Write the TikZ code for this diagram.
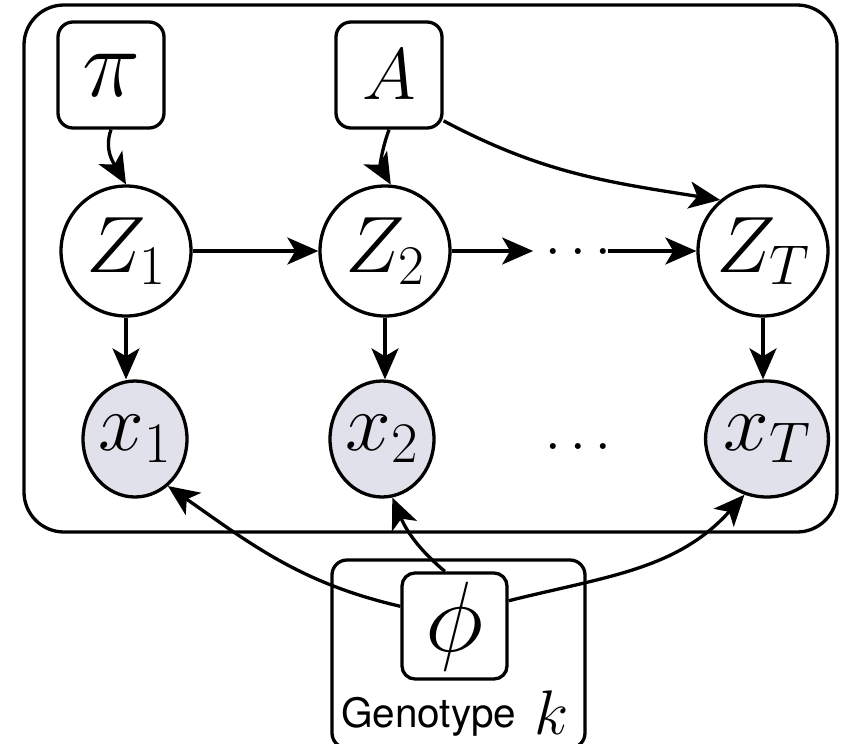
\RequirePackage{fix-cm}
\documentclass[tikz,border=0pt]{standalone}
\usepackage{fontspec}
\newfontfamily\geno{TeX Gyre Heros}
\usetikzlibrary{arrows.meta,shapes.geometric}
\definecolor{obsfill}{RGB}{224,225,234}
\tikzset{
  param/.style={draw, rounded corners=15pt, minimum width=106pt, minimum height=106pt, inner sep=0pt, line width=3.3pt},
  latent/.style={draw, circle, minimum size=130pt, inner sep=0pt, line width=3.3pt, font=\fontsize{80}{80}\selectfont},
  obs/.style={draw, ellipse, fill=obsfill, minimum width=104pt, minimum height=116pt, inner sep=0pt, line width=3.3pt, font=\fontsize{82}{82}\selectfont},
  arr/.style={-{Stealth[length=31pt,width=27pt,inset=8pt]}, line width=3.3pt},
  dotsnode/.style={inner sep=0pt, anchor=base, font=\fontsize{56}{56}\selectfont},
}
\begin{document}
\begin{tikzpicture}[x=1pt,y=-1pt]
\useasboundingbox (0,0) rectangle (846,744);
\clip (0,0) rectangle (846,744);
% outer plate
\draw[rounded corners=40pt, line width=3.3pt] (24,5) rectangle (837,532);
% genotype plate
\draw[rounded corners=15pt, line width=3.3pt] (332,560) rectangle (585,748);

\node[param, font=\fontsize{98}{98}\selectfont] (pi) at (111,75) {$\pi$};
\node[param, font=\fontsize{73}{73}\selectfont] (A) at (389,75) {$A$};

\node[latent] (Z1) at (126,251) {$Z_1$};
\node[latent] (Z2) at (385,251) {$Z_2$};
\node[latent] (ZT) at (763,251) {$Z_T$};
\node[dotsnode] (d1) at (578,265) {$\cdots$};

\node[obs] (x1) at (135,439) {$x_1$};
\node[obs] (x2) at (382,439) {$x_2$};
\node[obs] (xT) at (767,439) {$x_T$};
\node[dotsnode] (d2) at (578,460) {$\cdots$};

\node[param, minimum width=105pt, minimum height=106pt, rounded corners=13pt, font=\fontsize{100}{100}\selectfont] (phi) at (454.5,626) {$\phi$};
\node[inner sep=0pt, anchor=base west, font=\geno\fontsize{40.5}{40.5}\selectfont] (gt) at (341,727) {Genotype};
\node[inner sep=0pt, anchor=base west, font=\fontsize{63}{63}\selectfont] (k) at (534,734) {$k$};

% edges
\draw[arr] (pi.south) to[out=-110,in=120] (Z1.north);
\draw[arr] (A.south) to[out=-110,in=120] (Z2.85);
\draw[arr] (A.-40) to[out=-28,in=171] (ZT.130);
\draw[arr] (Z1) -- (Z2);
\draw[arr, shorten >=12pt] (Z2) -- (Z2 -| d1.west);
\draw[arr, shorten <=-2.5pt] (ZT -| d1.east) -- (ZT);
\draw[arr] (Z1.south) -- (Z1.south |- x1.north);
\draw[arr] (Z2.south) -- (Z2.south |- x2.north);
\draw[arr] (ZT.south) -- (ZT.south |- xT.north);

\draw[arr] (phi.160) to[out=167,in=-35] (x1.-55);
\draw[arr] (phi.100) to[out=140,in=-67] (x2.-80);
\draw[arr] (phi.25) to[out=14,in=-132] (xT.-112);
\end{tikzpicture}
\end{document}
